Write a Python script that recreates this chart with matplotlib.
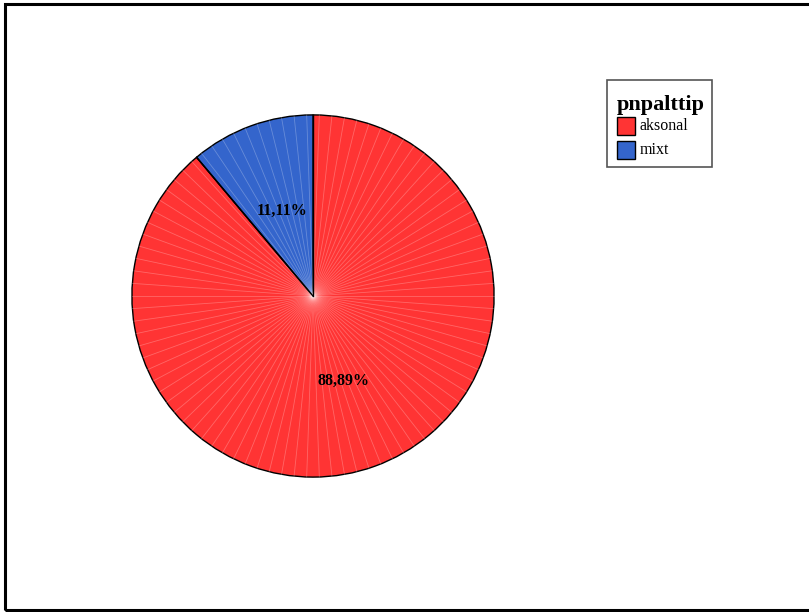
import numpy as np
import matplotlib.pyplot as plt
from matplotlib.patches import Rectangle

categories = ["aksonal", "mixt"]
percents = [88.89, 11.11]
colors = ["#ff3434", "#3465cc"]
legend_title = "pnpalttip"

W, H = 809, 612
fig = plt.figure(figsize=(W / 100, H / 100), dpi=100)


def px(x, y):
    # pixel position (from top-left) -> figure fraction
    return x / W, 1 - y / H


# outer frame (right side runs off the image)
fig.patches.append(Rectangle(px(4.5, 609.5), (W + 10) / W, 606 / H,
                             transform=fig.transFigure, fill=False,
                             edgecolor="black", linewidth=2.2))

cx, cy, r = 313, 296, 182
ax = fig.add_axes([(cx - r) / W, (H - cy - r) / H, 2 * r / W, 2 * r / H])

wedges, texts, autotexts = ax.pie(
    percents, colors=colors, startangle=90, counterclock=False,
    autopct=lambda p: f"{p:.2f}%".replace(".", ","), pctdistance=0.5,
    wedgeprops=dict(edgecolor="black", linewidth=1.0),
    textprops=dict(family="Liberation Serif", fontweight="bold", fontsize=11.5),
)

# SPSS-style faceting: faint radial lines
for a in np.deg2rad(np.arange(0, 360, 4)):
    ax.plot([0, np.cos(a)], [0, np.sin(a)], color="white", alpha=0.25,
            linewidth=0.6, zorder=1.5)
for w in wedges:
    w.set_zorder(1)
# slice boundaries on top of the facet lines
bounds = 90 - 3.6 * np.cumsum([0] + percents[:-1])
for th in bounds:
    t = np.deg2rad(th)
    ax.plot([0, np.cos(t)], [0, np.sin(t)], color="black", linewidth=1.0, zorder=2)
for t in autotexts:
    t.set_zorder(3)
ax.set_xlim(-1.005, 1.005)
ax.set_ylim(-1.005, 1.005)
ax.set_aspect("equal")
ax.axis("off")

# legend, drawn by hand to match the SPSS box
bx0, by0, bx1, by1 = 607, 80, 712, 167
fig.patches.append(Rectangle(px(bx0, by1), (bx1 - bx0) / W, (by1 - by0) / H,
                             transform=fig.transFigure, facecolor="white",
                             edgecolor="#555555", linewidth=1.2))
fig.text(*px(617, 110), legend_title, family="Liberation Serif",
         fontweight="bold", fontsize=16, va="baseline", ha="left")
for i, (lab, c) in enumerate(zip(categories, colors)):
    top = 117 + i * 23.5
    fig.patches.append(Rectangle(px(617, top + 18), 18 / W, 18 / H,
                                 transform=fig.transFigure, facecolor=c,
                                 edgecolor="black", linewidth=1.0))
    fig.text(*px(640, top + 9), lab, family="Liberation Serif",
             fontsize=11.5, va="center", ha="left")

fig.savefig("out.png", dpi=100)
